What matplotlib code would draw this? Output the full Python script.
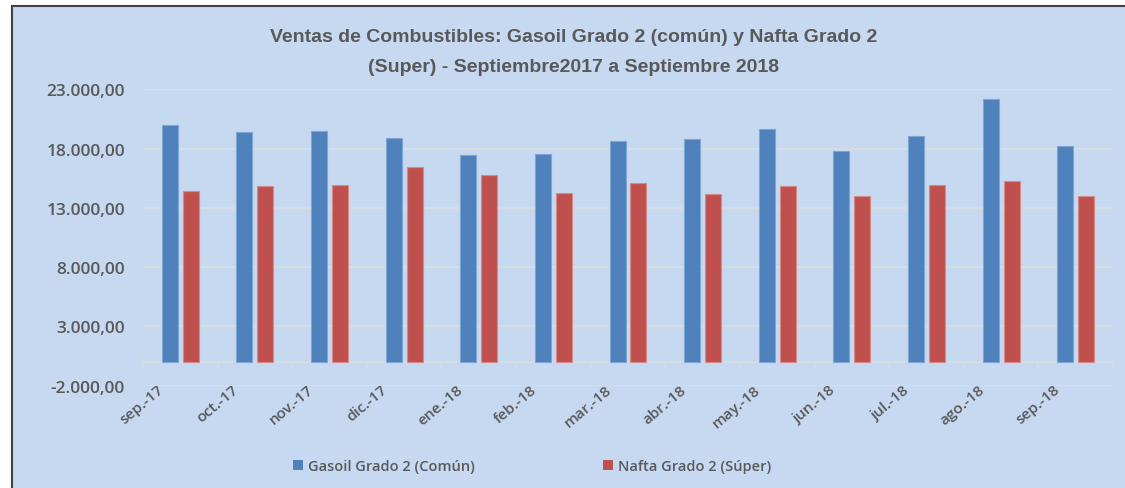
import matplotlib
matplotlib.use("Agg")
import matplotlib.pyplot as plt
import matplotlib.transforms as mtransforms
from matplotlib.patches import Rectangle, Patch
from matplotlib.ticker import FixedLocator, FuncFormatter
import numpy as np

categories = ["sep.-17", "oct.-17", "nov.-17", "dic.-17", "ene.-18", "feb.-18", "mar.-18",
              "abr.-18", "may.-18", "jun.-18", "jul.-18", "ago.-18", "sep.-18"]
gasoil = [19990, 19400, 19480, 18870, 17460, 17540, 18620, 18780, 19650, 17820, 19040, 22180, 18240]
nafta = [14420, 14870, 14950, 16420, 15800, 14230, 15100, 14140, 14840, 13980, 14930, 15290, 13980]
yticks = [-2000, 3000, 8000, 13000, 18000, 23000]
series_names = ["Gasoil Grado 2 (Común)", "Nafta Grado 2 (Súper)"]
title = "Ventas de Combustibles: Gasoil Grado 2 (común) y Nafta Grado 2\n(Super) - Septiembre2017 a Septiembre 2018"

BG = "#C6D9F0"
BLUE = "#4F81BD"
RED = "#C0504D"
TXT = "#595959"
GRID = "#D5DCE4"

plt.rcParams["font.family"] = ["Open Sans", "DejaVu Sans"]
plt.rcParams["font.weight"] = "semibold"

W, H = 1125, 489
fig = plt.figure(figsize=(W / 100, H / 100), dpi=100)
fig.patch.set_facecolor("white")

# chart area background with left/top border
fig.patches.append(Rectangle((12 / W, 0), 1 - 12 / W, 1 - 7 / H, transform=fig.transFigure,
                             facecolor=BG, edgecolor="none", zorder=-10))
fig.lines.append(plt.Line2D([12 / W, 1], [1 - 7 / H, 1 - 7 / H], transform=fig.transFigure,
                            color="#404040", lw=1.5, zorder=-5))
fig.lines.append(plt.Line2D([12 / W, 12 / W], [0, 1 - 7 / H], transform=fig.transFigure,
                            color="#404040", lw=1.5, zorder=-5))

ax = fig.add_axes([143 / W, 102.3 / H, (1113 - 143) / W, (398.7 - 102.3) / H])
ax.set_facecolor("none")
ax.set_zorder(1)

x = np.arange(len(categories))
bw = 0.215
off = 0.14
ax.bar(x - off, gasoil, bw, color=BLUE, edgecolor="#7FA3D3", linewidth=0.8, zorder=3,
       label=series_names[0])
ax.bar(x + off, nafta, bw, color=RED, edgecolor="#D58A88", linewidth=0.8, zorder=3,
       label=series_names[1])

ax.set_xlim(-0.5, len(categories) - 0.5)
ax.set_ylim(yticks[0], yticks[-1])
ax.set_yticks(yticks)
ax.yaxis.set_major_formatter(FuncFormatter(
    lambda v, p: f"{v:,.2f}".replace(",", "X").replace(".", ",").replace("X", ".")))
ax.grid(axis="y", color=GRID, lw=1.5, zorder=0)
ax.tick_params(axis="y", length=0, pad=13, labelsize=12.5, labelcolor=TXT)

for s in ["left", "right", "top"]:
    ax.spines[s].set_visible(False)
ax.spines["bottom"].set_position(("data", 0))
ax.spines["bottom"].set_color(GRID)
ax.spines["bottom"].set_linewidth(1.5)
ax.spines["bottom"].set_zorder(2)

ax.set_xticks(x)
ax.xaxis.set_minor_locator(FixedLocator(np.arange(len(categories) + 1) - 0.5))
ax.tick_params(axis="x", which="major", length=0, pad=14.5, labelsize=11, labelcolor=TXT)
ax.tick_params(axis="x", which="minor", length=5, width=1.2, color=GRID, direction="out")
ax.set_xticklabels(categories, rotation=40, ha="right", va="top", rotation_mode="anchor")
offset = mtransforms.ScaledTranslation(-23 / 100, 0, fig.dpi_scale_trans)
for lab in ax.get_xticklabels():
    lab.set_transform(lab.get_transform() + offset)

fig.text(574 / W, 1 - 52 / H, title, ha="center", va="center", fontsize=14,
         fontweight="bold", color=TXT, family="Liberation Sans", linespacing=2.0)

handles = [Patch(facecolor=BLUE, edgecolor="none"), Patch(facecolor=RED, edgecolor="none")]
leg = fig.legend(handles, series_names, loc="center", bbox_to_anchor=(532 / W, 22 / H),
                 ncol=2, frameon=False, handlelength=0.7, handleheight=0.7,
                 handletextpad=0.3, columnspacing=8.8, labelcolor=TXT,
                 prop={"size": 10.5, "weight": "semibold"})

fig.savefig("out.png", dpi=100, facecolor=fig.get_facecolor())
